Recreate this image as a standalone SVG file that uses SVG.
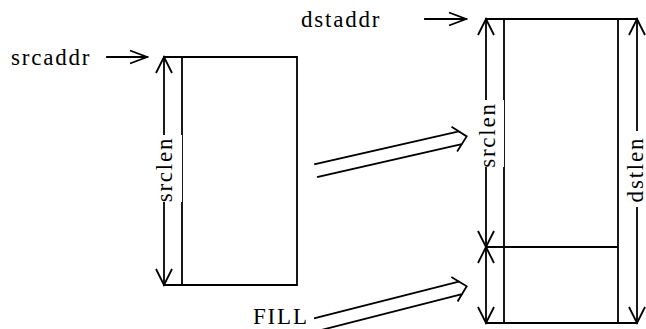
<svg xmlns="http://www.w3.org/2000/svg" width="646" height="329" viewBox="0 0 646 329">
<style>
.ln{stroke:#000;stroke-width:1.8;fill:none;stroke-linecap:square}
.t{font-family:"Liberation Serif","Times New Roman",serif;font-size:23px;letter-spacing:1.8px;fill:#000}
.bg{fill:#fff;stroke:none}
</style>
<defs>
<marker id="ah" markerUnits="userSpaceOnUse" markerWidth="20" markerHeight="20" viewBox="-18 -10 20 20" refX="0" refY="0" orient="auto-start-reverse">
<path d="M-16,-8 L0,0 L-16,8" fill="none" stroke="#000" stroke-width="1.8"/>
</marker>
<marker id="ah2" markerUnits="userSpaceOnUse" markerWidth="20" markerHeight="20" viewBox="-18 -8 20 16" refX="0" refY="0" orient="auto">
<path d="M-17,-6.5 L0,0 L-17,6.5" fill="none" stroke="#000" stroke-width="1.8"/>
</marker>
</defs>
<rect width="646" height="329" fill="#fff"/>
<g id="connectors">
<line class="ln" x1="107" y1="57" x2="147" y2="57" marker-end="url(#ah2)"/>
<line class="ln" x1="425" y1="19" x2="466" y2="19" marker-end="url(#ah2)"/>
<line class="ln" x1="164" y1="57" x2="164" y2="285" marker-start="url(#ah)" marker-end="url(#ah)"/>
<line class="ln" x1="486" y1="19" x2="486" y2="247" marker-start="url(#ah)" marker-end="url(#ah)"/>
<line class="ln" x1="486" y1="247" x2="486" y2="323" marker-start="url(#ah)" marker-end="url(#ah)"/>
<line class="ln" x1="637" y1="19" x2="637" y2="323" marker-start="url(#ah)" marker-end="url(#ah)"/>
<g id="copy-arrow" transform="translate(316.5,170.5) rotate(-12.8)">
<path class="ln" d="M0,-6.5 H147.5 M0,6.5 H147.5 M142,-12 L154,0 L142,12"/>
</g>
<g id="fill-arrow" transform="translate(316.5,324.5) rotate(-14.3)">
<path class="ln" d="M0,-6.5 H148.5 M0,6.5 H148.5 M143,-12 L155,0 L143,12"/>
</g>
</g>
<g id="src">
<path class="ln" d="M164,57 H297 V285 H164 M182,57 V285"/>
</g>
<g id="dst">
<path class="ln" d="M486,19 H637 M486,323 H637 M504,19 V323 M618,19 V323 M486,247 H618"/>
</g>
<g id="labels">
<text class="t" x="11" y="65">srcaddr</text>
<text class="t" x="301" y="27">dstaddr</text>
<text class="t" x="253" y="324">FILL</text>
<rect class="bg" x="153" y="135" width="29" height="67"/>
<text class="t" text-anchor="middle" transform="translate(172,169.5) rotate(-90)">srclen</text>
<rect class="bg" x="473" y="100" width="31" height="67"/>
<text class="t" text-anchor="middle" transform="translate(494.5,135) rotate(-90)">srclen</text>
<rect class="bg" x="626" y="131" width="20" height="76"/>
<text class="t" text-anchor="middle" transform="translate(642.5,169.5) rotate(-90)">dstlen</text>
</g>
</svg>
